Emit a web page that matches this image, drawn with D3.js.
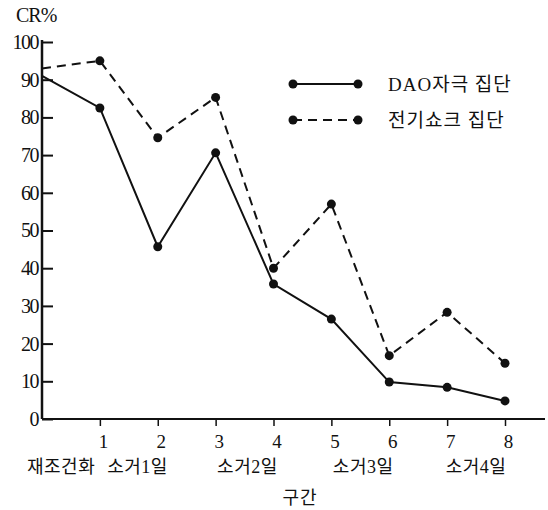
<!DOCTYPE html>
<html>
<head>
<meta charset="utf-8">
<script src="https://cdn.jsdelivr.net/npm/d3@7"></script>
<style>
    body { margin: 0; background: #fff; }
    svg { display: block; }
    text { font-family: "Liberation Serif", "Noto Sans CJK KR", serif; fill: #111; }
</style>
</head>
<body>
<svg id="chart" width="548" height="510"></svg>
<script>
// session index 0..8
const sessions = [0, 1, 2, 3, 4, 5, 6, 7, 8];
const daoGroup = [91, 82.5, 45.7, 70.6, 35.8, 26.5, 9.8, 8.4, 4.8];
const shockGroup = [93, 95, 74.6, 85.3, 40, 57, 16.8, 28.3, 14.8];
const yTicks = [0, 10, 20, 30, 40, 50, 60, 70, 80, 90, 100];
const xTicks = [1, 2, 3, 4, 5, 6, 7, 8];
const phaseLabels = ['재조건화', '소거1일', '소거2일', '소거3일', '소거4일'];
const phaseAt = [0.33, 1.65, 3.55, 5.55, 7.5];
const seriesNames = ['DAO자극 집단', '전기쇼크 집단'];

const svg = d3.select('#chart');

const x = d3.scaleLinear().domain([0, 8]).range([42, 505]);
const y = d3.scaleLinear().domain([0, 100]).range([419, 42]);

// y axis, ticks point inward
const yAxis = svg.append('g')
    .attr('transform', `translate(${x(0)},0)`)
    .call(d3.axisLeft(y).tickValues(yTicks).tickSize(-11).tickPadding(4).tickFormat(d3.format('d')));
yAxis.select('.domain').remove();
yAxis.selectAll('line').attr('stroke', '#111').attr('stroke-width', 2);
yAxis.selectAll('text').attr('font-size', 20).attr('letter-spacing', '-1.5px');

svg.append('line')
    .attr('x1', x(0)).attr('x2', x(0))
    .attr('y1', y(100) - 2).attr('y2', y(0))
    .attr('stroke', '#111').attr('stroke-width', 2.5);

// x axis
const xAxis = svg.append('g')
    .attr('transform', `translate(0,${y(0)})`)
    .call(d3.axisBottom(x).tickValues(xTicks).tickSize(7).tickPadding(9).tickFormat(d3.format('d')));
xAxis.select('.domain').remove();
xAxis.selectAll('line').attr('stroke', '#111').attr('stroke-width', 1.5);
xAxis.selectAll('text').attr('font-size', 19).attr('dx', 3);

svg.append('line')
    .attr('x1', x(0)).attr('x2', 545)
    .attr('y1', y(0)).attr('y2', y(0))
    .attr('stroke', '#111').attr('stroke-width', 2.2);

svg.append('text')
    .attr('x', 16).attr('y', 22)
    .attr('font-size', 20)
    .attr('letter-spacing', '-1px')
    .text('CR%');

svg.selectAll('.phase')
    .data(phaseLabels)
    .enter().append('text')
    .attr('class', 'phase')
    .attr('x', (d, i) => x(phaseAt[i]))
    .attr('y', 473)
    .attr('text-anchor', 'middle')
    .attr('font-size', 18)
    .attr('letter-spacing', '0.5px')
    .text(d => d);

svg.append('text')
    .attr('x', 300).attr('y', 504)
    .attr('text-anchor', 'middle')
    .attr('font-size', 18)
    .attr('letter-spacing', '1px')
    .text('구간');

// lines
const line = d3.line().x((d, i) => x(sessions[i])).y(d => y(d));
const series = [
    { name: seriesNames[0], values: daoGroup, dash: null },
    { name: seriesNames[1], values: shockGroup, dash: '9,6' },
];

series.forEach(s => {
    svg.append('path')
        .datum(s.values)
        .attr('d', line)
        .attr('fill', 'none')
        .attr('stroke', '#111')
        .attr('stroke-width', 2)
        .attr('stroke-dasharray', s.dash);
    svg.selectAll(null)
        .data(s.values.slice(1))
        .enter().append('circle')
        .attr('cx', (d, i) => x(sessions[i + 1]))
        .attr('cy', d => y(d))
        .attr('r', 4.5)
        .attr('fill', '#111');
});

// legend
const legend = svg.append('g');
series.forEach((s, i) => {
    const ly = 84 + i * 36;
    legend.append('line')
        .attr('x1', 293).attr('x2', 358)
        .attr('y1', ly).attr('y2', ly)
        .attr('stroke', '#111').attr('stroke-width', 2)
        .attr('stroke-dasharray', s.dash);
    legend.selectAll(null)
        .data([293, 358])
        .enter().append('circle')
        .attr('cx', d => d).attr('cy', ly).attr('r', 4.5).attr('fill', '#111');
    legend.append('text')
        .attr('x', 388).attr('y', ly + 7)
        .attr('font-size', 19)
        .attr('letter-spacing', '1px')
        .text(s.name);
});
</script>
</body>
</html>
